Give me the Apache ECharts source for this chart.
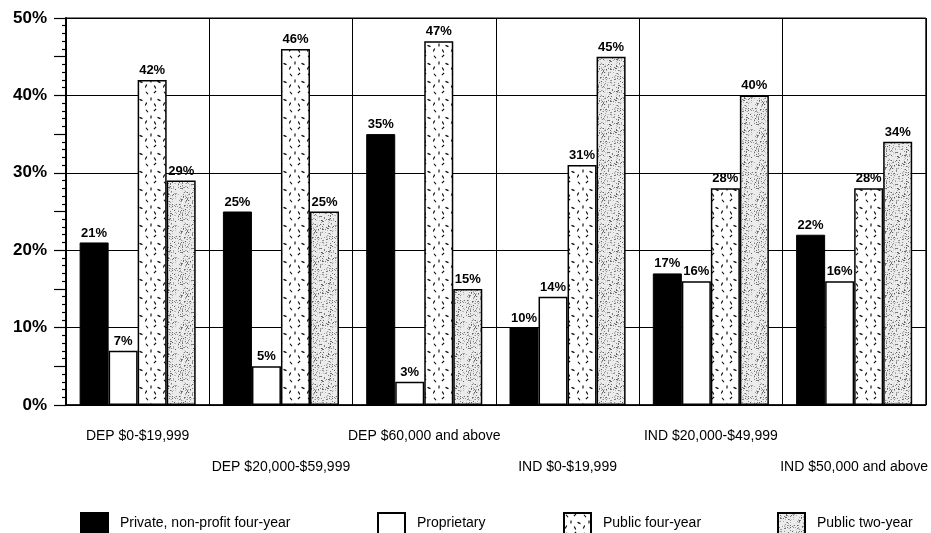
<!DOCTYPE html>
<html>
<head>
<meta charset="utf-8">
<script src="https://cdn.jsdelivr.net/npm/echarts@6/dist/echarts.min.js"></script>
<style>
  html, body { margin: 0; padding: 0; background: #fff; }
  #chart { width: 931px; height: 533px; }
</style>
</head>
<body>
<div id="chart"></div>
<script>
// Income groups (dependent / independent students)
const categories = [
  'DEP $0-$19,999',
  'DEP $20,000-$59,999',
  'DEP $60,000 and above',
  'IND $0-$19,999',
  'IND $20,000-$49,999',
  'IND $50,000 and above'
];
const seriesNames = ['Private, non-profit four-year', 'Proprietary', 'Public four-year', 'Public two-year'];
// Share of students (%) by institution type
const privateNonProfit = [21, 25, 35, 10, 17, 22];
const proprietary = [7, 5, 3, 14, 16, 16];
const publicFourYear = [42, 46, 47, 31, 28, 28];
const publicTwoYear = [29, 25, 15, 45, 40, 34];
// Value axis
const yMin = 0, yMax = 50, yStep = 10;

const FONT = '"Liberation Sans", Arial, Helvetica, sans-serif';

// Texture: short scattered dashes on white
function dashTile() {
  const c = document.createElement('canvas');
  c.width = 18; c.height = 18;
  const g = c.getContext('2d');
  g.fillStyle = '#fff';
  g.fillRect(0, 0, 18, 18);
  g.strokeStyle = '#000';
  g.lineWidth = 1.1;
  const dashes = [
    [3, 3, 0.9], [11, 2, 2.3], [7, 9, 1.6], [15, 10, 0.4],
    [2, 14, 2.0], [11, 15, 1.1]
  ];
  dashes.forEach(([x, y, a]) => {
    g.beginPath();
    g.moveTo(x - Math.cos(a) * 1.6, y - Math.sin(a) * 1.6);
    g.lineTo(x + Math.cos(a) * 1.6, y + Math.sin(a) * 1.6);
    g.stroke();
  });
  return c;
}

// Texture: fine grey stipple
function stippleTile() {
  const s = 32;
  const c = document.createElement('canvas');
  c.width = s; c.height = s;
  const g = c.getContext('2d');
  g.fillStyle = '#ececec';
  g.fillRect(0, 0, s, s);
  let seed = 12345;
  const next = () => { seed = (seed * 1103515245 + 12345) & 0x7fffffff; return seed / 0x7fffffff; };
  for (let i = 0; i < 300; i++) {
    const x = Math.floor(next() * s), y = Math.floor(next() * s);
    const v = Math.floor(90 + next() * 140);
    g.fillStyle = `rgb(${v},${v},${v})`;
    g.fillRect(x, y, 1, 1);
  }
  return c;
}

const dashFill = { image: dashTile(), repeat: 'repeat' };
const stippleFill = { image: stippleTile(), repeat: 'repeat' };

const labelStyle = {
  show: true, position: 'top', distance: 3,
  formatter: '{c}%', color: '#000',
  fontFamily: FONT, fontSize: 13, fontWeight: 'bold'
};

function barSeries(name, data, fill, border) {
  return {
    name, type: 'bar', data,
    barGap: '0%', barCategoryGap: '19%',
    itemStyle: { color: fill, borderColor: '#000', borderWidth: border },
    label: labelStyle
  };
}

// One legend block per series, spread across the bottom row
const legendLefts = [75, 372, 558, 772];
const legends = seriesNames.map((n, i) => ({
  data: [n], left: legendLefts[i], top: 507, padding: 5,
  itemWidth: 27, itemHeight: 21, icon: 'rect',
  textStyle: { fontFamily: FONT, fontSize: 14, color: '#000', padding: [0, 0, 0, 7] },
  selectedMode: false
}));

const option = {
  animation: false,
  backgroundColor: '#fff',
  grid: { left: 66, right: 4, top: 18, bottom: 128, show: true, borderColor: '#000', borderWidth: 1 },
  legend: legends,
  xAxis: {
    type: 'category', data: categories,
    axisLine: { lineStyle: { color: '#000', width: 1.5 } },
    axisTick: { show: false },
    splitLine: { show: true, lineStyle: { color: '#000', width: 1 } },
    axisLabel: {
      interval: 0, margin: 16, lineHeight: 31,
      fontFamily: FONT, fontSize: 14, color: '#000',
      formatter: (v, i) => (i % 2 === 1 ? '\n' + v : v)
    }
  },
  yAxis: [
    {
      type: 'value', min: yMin, max: yMax, interval: yStep,
      axisLine: { show: true, lineStyle: { color: '#000', width: 2 } },
      axisTick: { show: false },
      splitLine: { show: true, lineStyle: { color: '#000', width: 1 } },
      axisLabel: { margin: 19, fontFamily: FONT, fontSize: 17, fontWeight: 'bold', color: '#000', formatter: '{value}%' }
    },
    {
      type: 'value', min: yMin, max: yMax, interval: yStep / 2, position: 'left',
      axisLine: { show: false },
      axisTick: { show: true, length: 12, lineStyle: { color: '#000', width: 1.2 } },
      minorTick: { show: true, splitNumber: 5, length: 4, lineStyle: { color: '#000', width: 1.2 } },
      splitLine: { show: false },
      axisLabel: { show: false }
    }
  ],
  series: [
    barSeries(seriesNames[0], privateNonProfit, '#000', 1),
    barSeries(seriesNames[1], proprietary, '#fff', 1.5),
    barSeries(seriesNames[2], publicFourYear, dashFill, 1.5),
    barSeries(seriesNames[3], publicTwoYear, stippleFill, 1.5)
  ]
};

echarts.init(document.getElementById('chart'), null, { renderer: 'canvas' }).setOption(option);
</script>
</body>
</html>
